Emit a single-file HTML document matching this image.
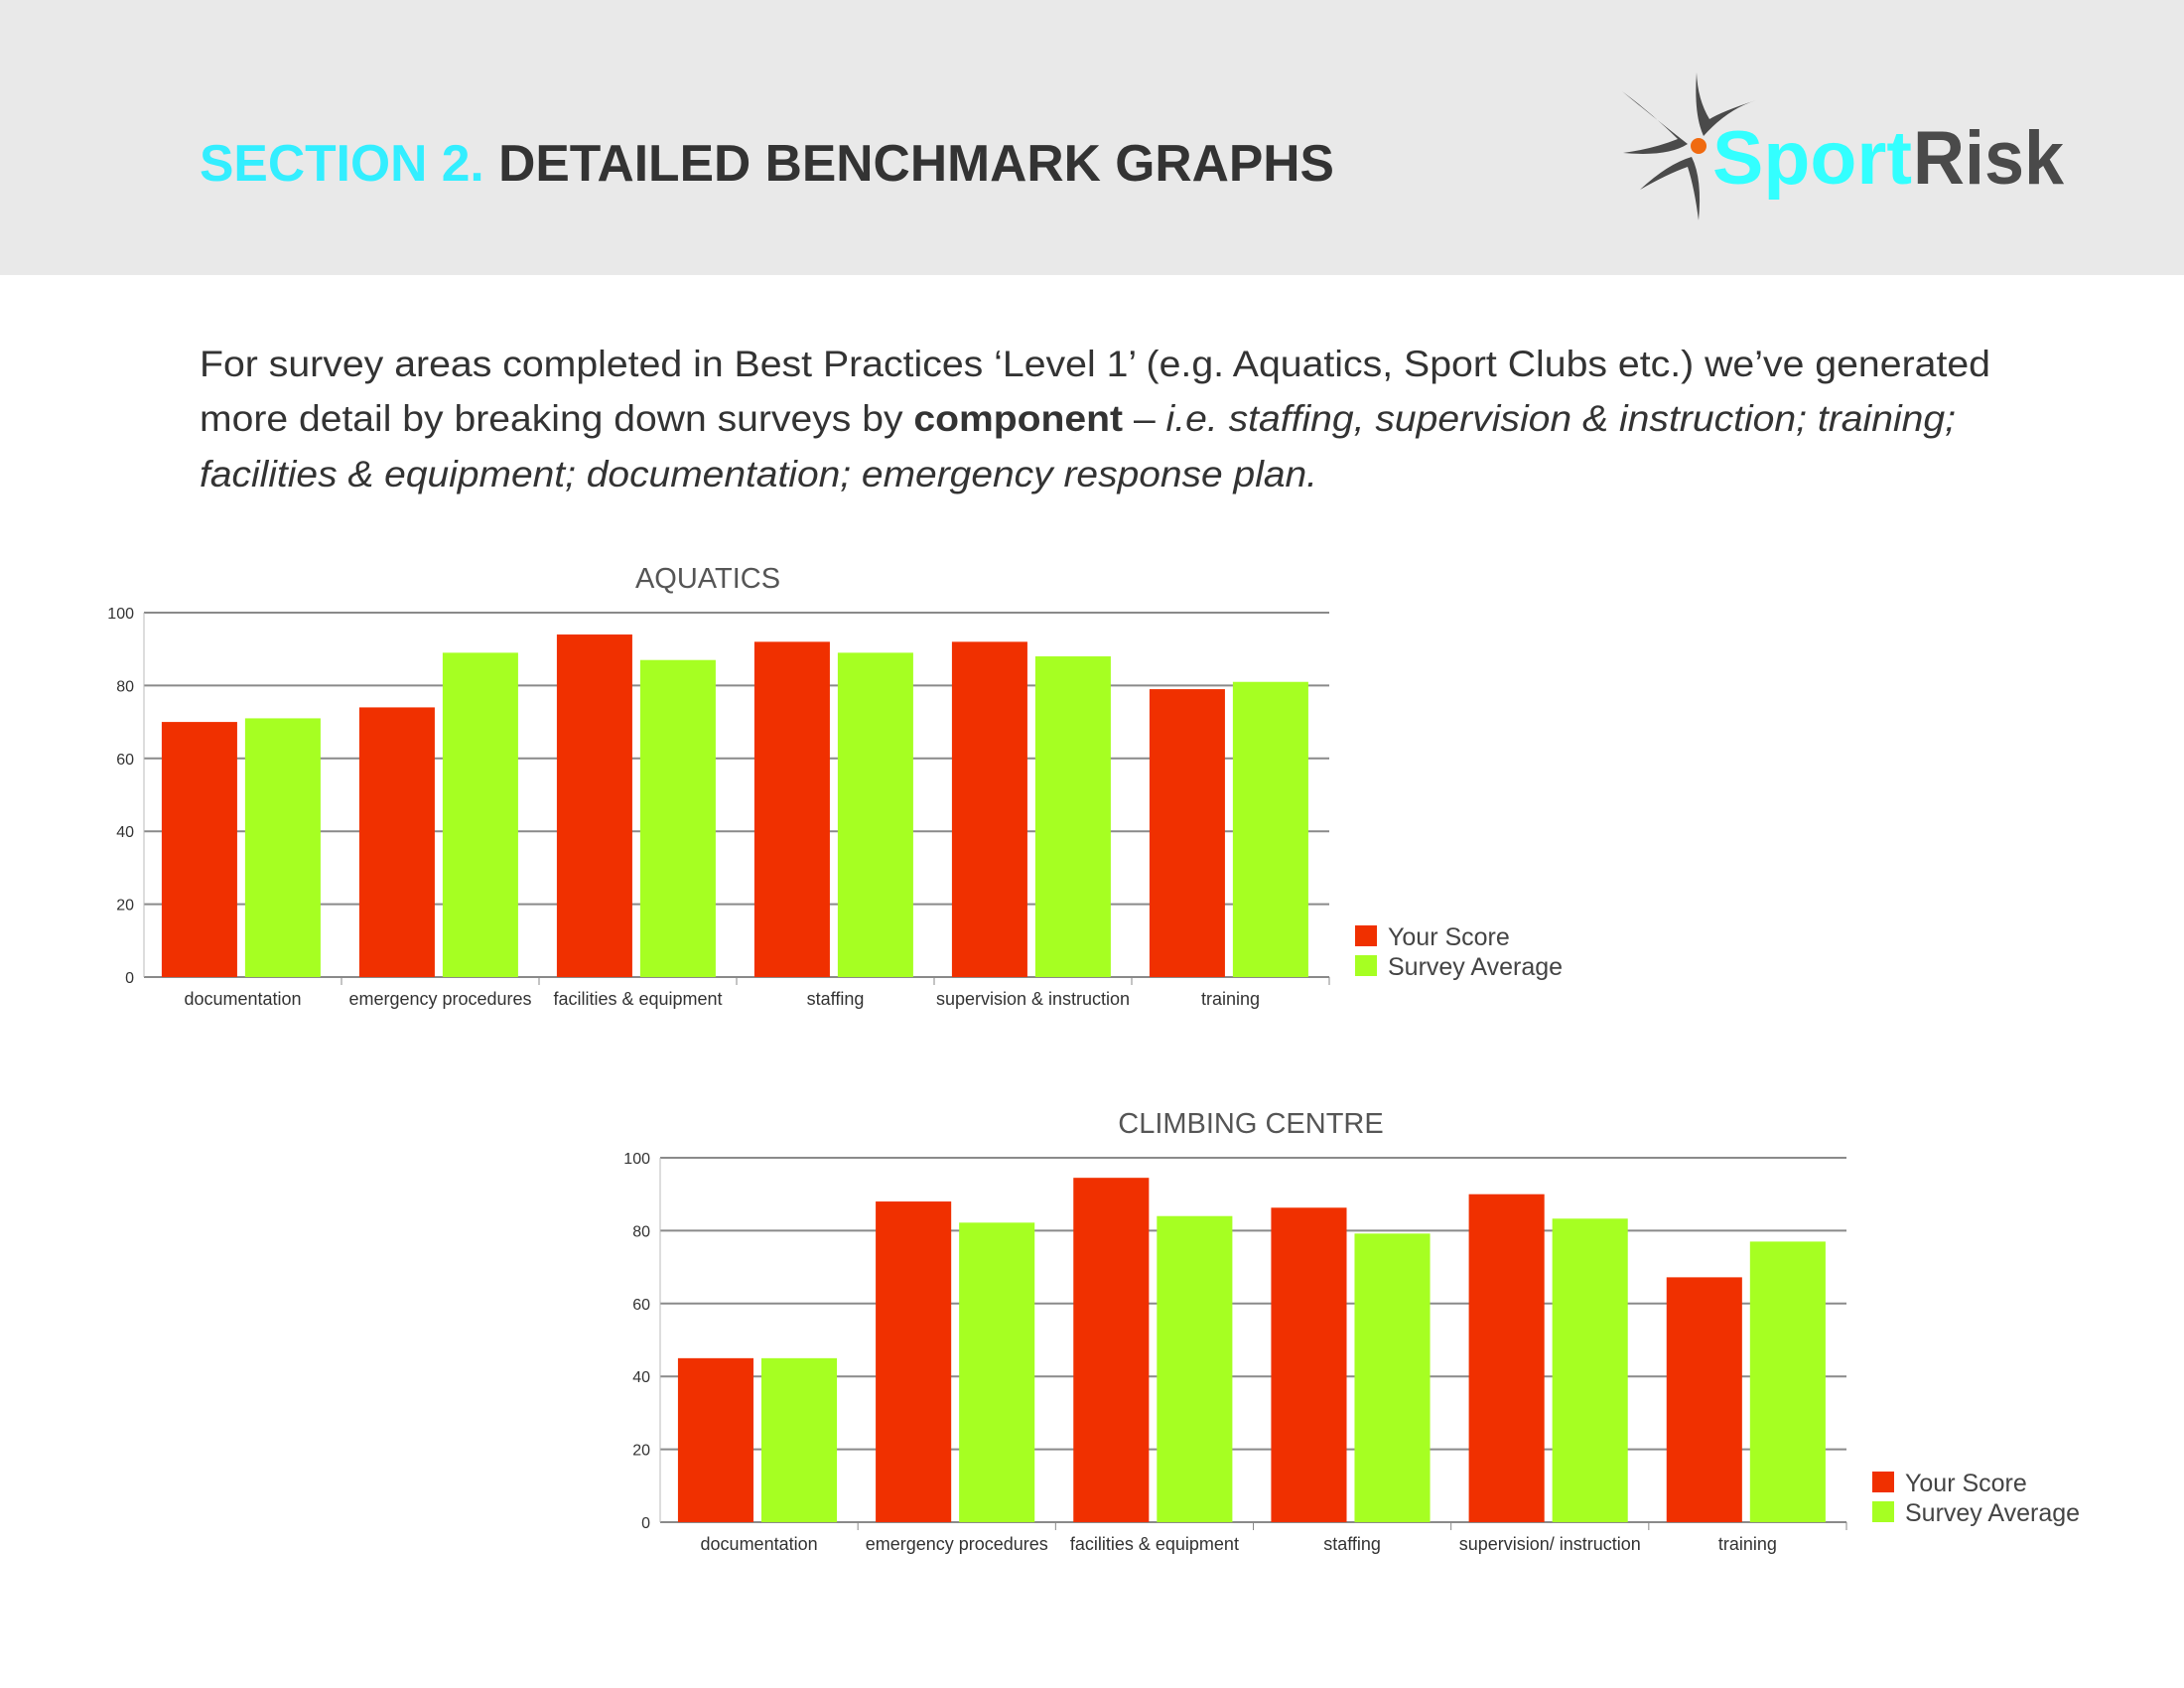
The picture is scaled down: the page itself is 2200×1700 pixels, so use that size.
<!DOCTYPE html>
<html><head><meta charset="utf-8"><style>
html,body{margin:0;padding:0;background:#fff}
svg{display:block}
</style></head><body>
<svg id="page" width="2200" height="1700" viewBox="0 0 2200 1700" xmlns="http://www.w3.org/2000/svg" font-family="Liberation Sans, sans-serif">
<rect x="0" y="0" width="2200" height="277" fill="#e9e9e9"/>
<text x="201" y="182" font-size="52" font-weight="bold" textLength="1143" lengthAdjust="spacingAndGlyphs"><tspan fill="#33eeff">SECTION 2. </tspan><tspan fill="#333">DETAILED BENCHMARK GRAPHS</tspan></text>
<g>
 <g fill="#4a4a4a">
  <path d="M1709,73 Q1706,115 1716,137 Q1740,110 1769,101 Q1735,112 1722,120 Q1710,100 1709,73Z"/>
  <path d="M1634,92 Q1668,120 1700,145 Q1680,158 1635,154 Q1665,150 1690,140 Q1665,115 1634,92Z"/>
  <path d="M1652,191 Q1680,165 1704,158 Q1715,180 1711,222 Q1707,190 1700,168 Q1680,175 1652,191Z"/>
 </g>
 <circle cx="1711" cy="147" r="8" fill="#f06a10"/>
 <text x="1725" y="185" font-size="76" font-weight="bold" fill="#33ffff" textLength="201" lengthAdjust="spacingAndGlyphs">Sport</text>
 <text x="1927" y="185" font-size="76" font-weight="bold" fill="#4a4a4a" textLength="152" lengthAdjust="spacingAndGlyphs">Risk</text>
</g>
<g fill="#333" font-size="37">
 <text x="201" y="379" textLength="1804" lengthAdjust="spacingAndGlyphs">For survey areas completed in Best Practices ‘Level 1’ (e.g. Aquatics, Sport Clubs etc.) we’ve generated</text>
 <text x="201" y="434" textLength="1769" lengthAdjust="spacingAndGlyphs">more detail by breaking down surveys by <tspan font-weight="bold">component</tspan> – <tspan font-style="italic">i.e. staffing, supervision &amp; instruction; training;</tspan></text>
 <text x="201" y="490" font-style="italic" textLength="1126" lengthAdjust="spacingAndGlyphs">facilities &amp; equipment; documentation; emergency response plan.</text>
</g>
<g id="chart1"></g>
<g id="chart2"></g>
</svg>
<script>
const categories1 = ["documentation","emergency procedures","facilities & equipment","staffing","supervision & instruction","training"];
const yourScore1 = [70, 74, 94, 92, 92, 79];
const surveyAvg1 = [71, 89, 87, 89, 88, 81];
const categories2 = ["documentation","emergency procedures","facilities & equipment","staffing","supervision/ instruction","training"];
const yourScore2 = [45, 88, 94.5, 86.3, 90, 67.2];
const surveyAvg2 = [45, 82.2, 84, 79.2, 83.3, 77];
const yTicks = [0, 20, 40, 60, 80, 100];
const legendLabels = ["Your Score", "Survey Average"];
const NS = "http://www.w3.org/2000/svg";
function mk(parent, tag, attrs, text){
  const e = document.createElementNS(NS, tag);
  for (const k in attrs) e.setAttribute(k, attrs[k]);
  if (text !== undefined) e.textContent = text;
  parent.appendChild(e);
  return e;
}
function drawChart(g, title, titleX, cats, s1, s2, L, R, Y0, Y100, legX, legY){
  const yScale = v => Y0 - (v/100)*(Y0-Y100);
  const gw = (R-L)/cats.length;
  const xBand = i => L + i*gw;
  const t = mk(g,'text',{x:titleX, y:Y100-25, 'font-size':29, fill:'#555','text-anchor':'middle'}, title);
  
  
  yTicks.forEach(v=>{
    const ln = mk(g,'line',{x1:L, x2:R, y1:yScale(v), y2:yScale(v), stroke:'#8a8a8a','stroke-width':2});
    
    
    const tl = mk(g,'text',{x:L-10, y:yScale(v)+6, 'font-size':16, fill:'#333','text-anchor':'end'}, String(v));
    
    
  });
  const ax = mk(g,'line',{x1:L, x2:L, y1:Y100, y2:Y0, stroke:'#bbb','stroke-width':1});
  
  
  for (let i=1;i<=cats.length;i++){
    const tk = mk(g,'line',{x1:xBand(i), x2:xBand(i), y1:Y0, y2:Y0+8, stroke:'#888','stroke-width':1});
    
    
  }
  cats.forEach((c,i)=>{
    const x0 = xBand(i);
    const bw = gw*0.382;
    const r = mk(g,'rect',{x:x0+gw*0.09, y:yScale(s1[i]), width:bw, height:Y0-yScale(s1[i]), fill:'#f03000'});
    
    
    const gr = mk(g,'rect',{x:x0+gw*0.09+bw+gw*0.04, y:yScale(s2[i]), width:bw, height:Y0-yScale(s2[i]), fill:'#a6ff22'});
    
    
    const xl = mk(g,'text',{x:x0+gw/2, y:Y0+28, 'font-size':18, fill:'#333','text-anchor':'middle'}, c);
    
    
  });
  const colors = ['#f03000','#a6ff22'];
  legendLabels.forEach((lab,i)=>{
    const sq = mk(g,'rect',{x:legX, y:legY+i*30, width:22, height:21, fill:colors[i]});
    
    
    const lt = mk(g,'text',{x:legX+33, y:legY+20+i*30, 'font-size':25, fill:'#444'}, lab);
    
    
  });
}
drawChart(document.getElementById('chart1'), 'AQUATICS', 713, categories1, yourScore1, surveyAvg1, 145, 1339, 984, 617, 1365, 932);
drawChart(document.getElementById('chart2'), 'CLIMBING CENTRE', 1260, categories2, yourScore2, surveyAvg2, 665, 1860, 1533, 1166, 1886, 1482);
</script>
</body></html>
